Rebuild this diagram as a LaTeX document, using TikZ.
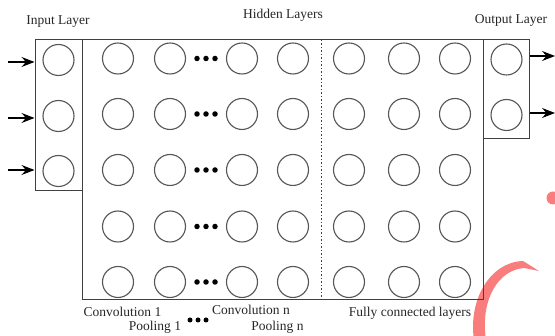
\documentclass[tikz,border=0pt]{standalone}
\usepackage{fontspec}
\setmainfont{Liberation Serif}
\usetikzlibrary{arrows.meta,calc}
\definecolor{boxline}{HTML}{404040}
\definecolor{cell}{HTML}{555555}
\definecolor{markred}{RGB}{250,125,125}
\begin{document}
\begin{tikzpicture}[x=1pt,y=-1pt,
  neuron/.style={circle,draw=cell,line width=1.1pt,minimum size=31pt,inner sep=0pt},
  layerbox/.style={draw=boxline,line width=1pt,inner sep=0pt},
  lbl/.style={font=\fontsize{13.5}{16}\selectfont,text=black!85,anchor=base,inner sep=0pt},
  dot/.style={circle,fill=black,inner sep=0pt,minimum size=5.5pt},
  feed/.style={-{Stealth[length=13pt,width=10pt,inset=4.5pt]},line width=1.1pt,black}]
\useasboundingbox (0,0) rectangle (555,336);

% decorative red marks at the right edge
\fill[markred] (553,198) circle (6.5);
\fill[markred] (474,340) .. controls (468,300) and (490,262) .. (523,261)
  -- (539,271) -- (524,268) .. controls (498,270) and (480,300) .. (486,340) -- cycle;

% layer boxes
\node[layerbox,minimum width=401pt,minimum height=260pt] (hidbox) at (282.5,170) {};
\node[layerbox,minimum width=47pt,minimum height=151pt] (inbox) at (58.5,115.5) {};
\node[layerbox,minimum width=46pt,minimum height=99pt] (outbox) at (506,89.5) {};

% separator between convolution and fully connected parts
\coordinate (sep) at (321,40);
\draw[boxline,line width=0.8pt,dash pattern=on 1.5pt off 2pt] (sep) -- (sep |- hidbox.south);

% input neurons
\foreach \r/\y in {1/60,2/116,3/171}
  \node[neuron] (i\r) at (58.5,\y) {};

% output neurons
\foreach \r/\y in {1/59.5,2/115}
  \node[neuron] (o\r) at (506.5,\y) {};

% hidden neurons
\foreach \c/\x in {1/118,2/170,3/242,4/293,5/349,6/404,7/455}
  \foreach \r/\y in {1/58.5,2/114,3/170,4/226.5,5/282}
    \node[neuron] (h\c\r) at (\x,\y) {};

% ellipsis dots between convolution stages
\foreach \r in {1,...,5}
  \foreach \d/\k in {-9/a,0/b,9/c}
    \node[dot,xshift=\d pt] (d\r\k) at ($(h2\r)!0.5!(h3\r)$) {};

% input arrows
\foreach \r/\y in {1/62,2/118,3/170} {
  \coordinate (in\r) at (8,\y);
  \draw[feed] (in\r) -- (in\r -| inbox.west);
}

% output arrows
\foreach \r/\y in {1/56,2/113} {
  \coordinate (out\r) at (555,\y);
  \draw[feed] (out\r -| outbox.east) -- (out\r);
}

% titles
\node[lbl] (tin) at (58,25) {Input Layer};
\node[lbl] (thid) at (283,19) {Hidden Layers};
\node[lbl] (tout) at (511,24) {Output Layer};

% captions under the hidden layers
\node[lbl] (conv1) at (122.5,317) {Convolution 1};
\node[lbl] (pool1) at (155,331) {Pooling 1};
\node[lbl] (convn) at (251,315) {Convolution n};
\node[lbl] (pooln) at (277.5,331) {Pooling n};
\node[lbl] (fc) at (410,317) {Fully connected layers};
\foreach \x/\k in {190/a,198/b,206/c}
  \node[dot,minimum size=5pt] (bd\k) at (\x,320) {};
\end{tikzpicture}
\end{document}
